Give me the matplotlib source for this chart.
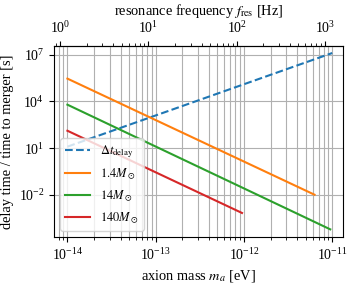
import numpy as np
import matplotlib
matplotlib.use("Agg")
import matplotlib.pyplot as plt
from matplotlib.ticker import FixedLocator, NullLocator

plt.rcParams['font.family'] = 'serif'
plt.rcParams['font.serif'] = ['Liberation Serif', 'DejaVu Serif']
plt.rcParams['mathtext.fontset'] = 'stix'
plt.rcParams['font.size'] = 10

# data (straight lines in log-log)
m_delay = [1e-14, 1e-11]
t_delay = [10**1.1, 10**7.1]

m_14 = [1e-14, 6.3e-12]
t_14 = [10**5.46, 10**-1.98]

m_140 = [1e-14, 9.5e-12]
t_140 = [10**3.79, 10**-4.2]

m_1400 = [1e-14, 9.5e-13]
t_1400 = [10**2.12, 10**-3.15]

labels = [r'$\Delta t_{\rm delay}$', r'$1.4M_\odot$', r'$14M_\odot$', r'$140M_\odot$']
y_ticks = [1e-2, 1e1, 1e4, 1e7]

F_PER_EV = 1.209e14  # Hz per eV for top axis

fig = plt.figure(figsize=(3.47, 2.89), dpi=100)
ax = fig.add_axes([54/347, 1-237/289, (343-54)/347, (237-46)/289])

ax.plot(m_delay, t_delay, '--', color='C0', lw=1.5, label=labels[0])
ax.plot(m_14, t_14, '-', color='C1', lw=1.5, label=labels[1])
ax.plot(m_140, t_140, '-', color='C2', lw=1.5, label=labels[2])
ax.plot(m_1400, t_1400, '-', color='C3', lw=1.5, label=labels[3])

ax.set_xscale('log')
ax.set_yscale('log')
ax.set_xlim(10**-14.152, 10**-10.878)
ax.set_ylim(10**-4.69, 10**7.55)
ax.yaxis.set_major_locator(FixedLocator(y_ticks))
ax.yaxis.set_minor_locator(NullLocator())
ax.grid(True, which='both', axis='x', color='#b0b0b0', lw=0.8)
ax.grid(True, which='major', axis='y', color='#b0b0b0', lw=0.8)
ax.set_axisbelow(True)
ax.set_xlabel(r'axion mass $m_a$ [eV]', fontsize=10.4)
ax.set_ylabel('delay time / time to merger [s]', fontsize=10.4, labelpad=3)
ax.legend(loc='lower left', fontsize=9, handlelength=2.0, labelspacing=0.5)

sec = ax.secondary_xaxis('top', functions=(lambda m: m * F_PER_EV, lambda f: f / F_PER_EV))
sec.set_xlabel(r'resonance frequency $f_{\rm res}$ [Hz]', fontsize=10.4)

fig.savefig('out.png', dpi=100)
